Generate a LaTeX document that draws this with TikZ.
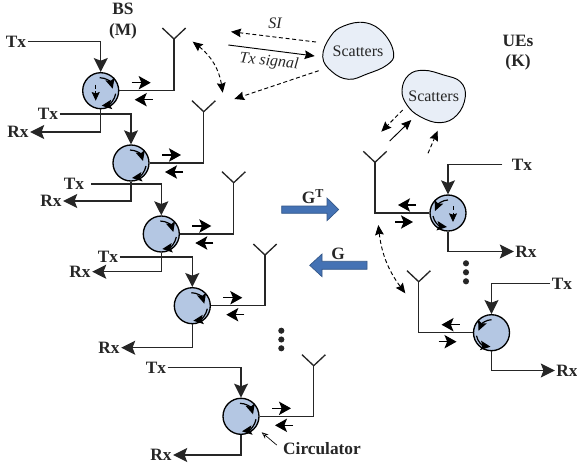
\documentclass[tikz,border=0pt]{standalone}
\usepackage{fontspec}
\setmainfont{Liberation Serif}
\usetikzlibrary{arrows.meta,calc}
\definecolor{circfill}{HTML}{B4C7E3}
\definecolor{blobfill}{HTML}{E8EEF7}
\definecolor{bigblue}{HTML}{4472B4}
\definecolor{ink}{HTML}{262626}
\tikzset{
  wire/.style={line width=1pt,draw=ink},
  feed/.style={wire,-{Stealth[length=10.5pt,width=10.5pt,inset=2pt]}},
  flow/.style={line width=1pt,draw=black,-{Stealth[length=9pt,width=10pt,inset=2pt]}},
  inner/.style={line width=0.9pt,draw=black,-{Stealth[length=7.5pt,width=7pt,inset=1.5pt]}},
  innerdash/.style={line width=0.6pt,draw=black,densely dashed,-{Stealth[length=6.5pt,width=6pt,inset=1pt]}},
  link/.style={line width=0.7pt,draw=black,-{Stealth[length=7.5pt,width=6.5pt,inset=1pt]}},
  dlink/.style={link,densely dashed},
  dbl/.style={line width=0.7pt,draw=black,densely dashed,{Stealth[length=7.5pt,width=6.5pt,inset=1pt]}-{Stealth[length=7.5pt,width=6.5pt,inset=1pt]}},
  circu/.style={circle,draw=black,line width=1pt,fill=circfill,minimum size=27pt,inner sep=0pt},
  lab/.style={font=\fontsize{13}{15}\selectfont\bfseries,text=ink,inner sep=1pt},
  plain/.style={font=\fontsize{12}{14}\selectfont,text=ink,inner sep=1pt},
  blob/.style={draw=black,line width=0.7pt,fill=blobfill},
  bigarrow/.style={draw=bigblue!75!black,line width=0.5pt,fill=bigblue},
  ant/.style={wire},
}
% circulator with ports on the right
\newcommand{\circuR}[3]{%
  \node[circu] (#1) at (#2,#3) {};
  \begin{scope}[shift={(#1.center)}]
    \draw[inner] (-1,-13) .. controls (5,-13) and (10,-9) .. (12,-2);
    \draw[inner] (15,3) .. controls (14,9) and (9,14) .. (1,15);
    \draw[flow] (31,-8) -- (50,-8);
    \draw[flow] (52,9) -- (34,9);
  \end{scope}}
% circulator with ports on the left
\newcommand{\circuL}[3]{%
  \node[circu] (#1) at (#2,#3) {};
  \begin{scope}[shift={(#1.center)}]
    \draw[inner] (0,-13) .. controls (-5,-13) and (-10,-9) .. (-13,-2);
    \draw[inner] (-15,3) .. controls (-14,9) and (-9,13) .. (-1,14);
    \draw[flow] (-32,-8) -- (-50,-8);
    \draw[flow] (-53,9) -- (-35,9);
  \end{scope}}
% antenna: foot coordinate #1, junction at (#2,#3)
\newcommand{\antenna}[3]{%
  \coordinate (#1) at (#2,#3);
  \draw[ant] (#1) -- ++(-11.7,-11) (#1) -- ++(11.7,-11);}
\begin{document}
\begin{tikzpicture}[x=0.75pt,y=-0.75pt]
\useasboundingbox (0,0) rectangle (577,468);

% titles
\node[lab,align=center] (bst) at (123,9) {BS};
\node[lab] (bsm) at (123,31) {(M)};
\node[lab] (uet) at (518,41) {UEs};
\node[lab] (uek) at (518,62) {(K)};

% circulators
\circuR{c1}{100.7}{90.7}
\circuR{c2}{131}{163}
\circuR{c3}{161.3}{234}
\circuR{c4}{192.3}{305.7}
\circuR{c5}{241}{416.3}
\circuL{u1}{448}{213}
\circuL{u2}{491.5}{332.7}
\draw[innerdash] ($(c1.center)+(-5,-6)$) -- ($(c1.center)+(-5,10)$);
\draw[innerdash] ($(u1.center)+(5,-7)$) -- ($(u1.center)+(5,9)$);

% antennas
\antenna{a1}{174}{39}
\antenna{a2}{203.7}{111.7}
\antenna{a3}{233.7}{182.7}
\antenna{a4}{265}{255}
\antenna{a5}{313.7}{365.7}
\antenna{a6}{375}{162.3}
\antenna{a7}{418.7}{281.7}
\foreach \c/\a in {c1/a1,c2/a2,c3/a3,c4/a4,c5/a5}{\draw[wire] (\c.east) -| (\a);}
\foreach \c/\a in {u1/a6,u2/a7}{\draw[wire] (\c.west) -| (\a);}

% Tx labels and feeds
\node[lab] (tx1) at (16,41.5) {Tx};
\node[lab] (tx2) at (48,114) {Tx};
\node[lab] (tx3) at (74,184) {Tx};
\node[lab] (tx4) at (108,257) {Tx};
\node[lab] (tx5) at (156,367.5) {Tx};
\node[lab] (tx6) at (522,164.5) {Tx};
\node[lab] (tx7) at (562,283.7) {Tx};
\draw[feed] (tx1.east) -| (c1.north);
\draw[feed] (tx2.east) -| (c2.north);
\draw[feed,shorten <=4pt] (tx3.east) -| (c3.north);
\draw[feed] (tx4.east) -| (c4.north);
\draw[feed] (tx5.east) -| (c5.north);
\draw[feed,shorten <=6pt] (tx6.west) -| (u1.north);
\draw[feed] (tx7.west) -| (u2.north);

% Rx labels and outputs
\node[lab] (rx1) at (18,132) {Rx};
\node[lab] (rx2) at (51,201) {Rx};
\node[lab] (rx3) at (80,271.7) {Rx};
\node[lab] (rx4) at (109,347.7) {Rx};
\node[lab] (rx5) at (161,455) {Rx};
\node[lab] (rx6) at (526,251.5) {Rx};
\node[lab] (rx7) at (567,370.5) {Rx};
\draw[feed] (c1.south) |- (rx1.east);
\draw[feed] (c2.south) |- (rx2.east);
\draw[feed] (c3.south) |- (rx3.east);
\draw[feed] (c4.south) |- (rx4.east);
\draw[feed] (c5.south) |- (rx5.east);
\draw[feed] (u1.south) |- (rx6.west);
\draw[feed] (u2.south) |- (rx7.west);

% scatterers
\draw[blob] plot[smooth cycle,tension=0.7] coordinates {(322.7,56.7) (330.3,36.7) (343.7,26) (365.3,22.7) (383.7,33.3) (393.7,53.3) (387,65) (367,74) (348.7,79.3) (332,71.7)};
\node[plain] (s1) at (358,51) {Scatters};
\draw[blob] plot[smooth cycle,tension=0.7] coordinates {(402,90) (408.7,75) (423.7,70.3) (443.7,75) (460.3,81.7) (465.3,96.7) (457,115) (440.3,122.7) (420.3,116.7) (407,105)};
\node[plain] (s2) at (433.7,96) {Scatters};

% propagation arrows
\coordinate (p1) at (316,42);
\coordinate (p2) at (231,31.7);
\coordinate (p3) at (228.3,45);
\coordinate (p4) at (314.7,56);
\coordinate (p5) at (318.7,70.7);
\coordinate (p6) at (234.3,99);
\draw[dlink] (p1) -- (p2);
\draw[link] (p3) -- (p4);
\draw[dlink] (p5) -- (p6);
\node[plain,font=\fontsize{12}{14}\selectfont\itshape] (si) at (275,23) {SI};
\node[plain,font=\fontsize{12}{14}\selectfont\itshape,rotate=-6] (txs) at (269,62) {Tx signal};
\coordinate (d1) at (192.7,41.7);
\coordinate (d2) at (222.7,92.7);
\draw[dbl] (d1) to[bend left=22] (d2);

\coordinate (q1) at (402.7,110);
\coordinate (q2) at (381.3,131.7);
\coordinate (q3) at (389.7,141);
\coordinate (q4) at (411.3,120);
\coordinate (q5) at (428,153.3);
\coordinate (q6) at (437.7,130.7);
\draw[dlink] (q1) -- (q2);
\draw[link] (q3) -- (q4);
\draw[dlink] (q5) -- (q6);
\coordinate (e1) at (378.3,225);
\coordinate (e2) at (405.3,293.3);
\draw[dbl] (e1) to[bend right=15] (e2);

% channel arrows
\draw[bigarrow] (281.7,206) -- (327,206) -- (327,198) -- (338.7,209.5) -- (327,220.7) -- (327,213.3) -- (281.7,213.3) -- cycle;
\node[lab] (gt) at (313,197) {G$^{\mathbf{T}}$};
\draw[bigarrow] (367,261.3) -- (322,261.3) -- (322,254) -- (309.7,265.3) -- (322,276.7) -- (322,269.3) -- (367,269.3) -- cycle;
\node[lab] (g) at (338,254) {G};

% ellipsis dots
\foreach \y in {330.7,339.5,348.3}{\fill[ink] (281.3,\y) circle (2.3pt);}
\foreach \y in {263.3,272.3,281.3}{\fill[ink] (466,\y) circle (2.3pt);}

% circulator callout
\node[lab,font=\fontsize{13}{15}\selectfont\bfseries] (cl) at (322,449) {Circulator};
\coordinate (cla) at (276.7,445);
\coordinate (clb) at (261.7,432.3);
\draw[line width=0.5pt,-{Stealth[length=5pt,width=4pt,open]}] (cla) -- (clb);
\end{tikzpicture}
\end{document}
